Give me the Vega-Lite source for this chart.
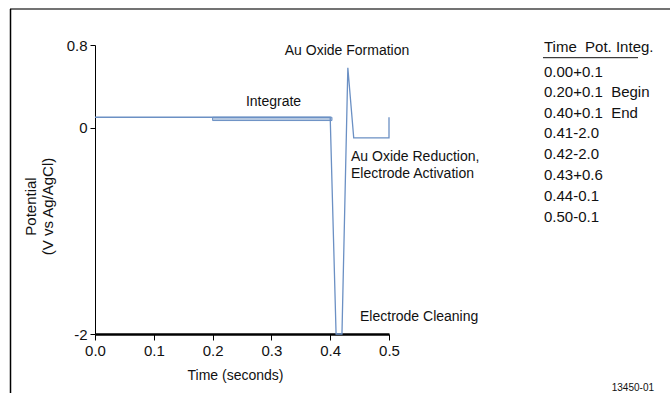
{
  "$schema": "https://vega.github.io/schema/vega-lite/v6.json",
  "autosize": {"type": "none"},
  "width": 294,
  "height": 289,
  "padding": {"left": 95, "top": 45, "right": 281, "bottom": 59},
  "background": "white",
  "config": {
    "view": {"stroke": null},
    "font": "Liberation Sans",
    "text": {"font": "Liberation Sans", "color": "#111"}
  },
  "encoding": {
    "x": {
      "field": "t", "type": "quantitative",
      "scale": {"domain": [0, 0.5], "nice": false, "zero": false},
      "axis": {
        "title": "Time (seconds)",
        "values": [0, 0.1, 0.2, 0.3, 0.4, 0.5],
        "format": ".1f",
        "labelFlush": false,
        "grid": false,
        "domainColor": "#000", "domainWidth": 2.5,
        "tickColor": "#000", "tickWidth": 1, "tickSize": 6,
        "labelFont": "Liberation Sans", "labelFontSize": 15, "labelColor": "#111", "labelPadding": 3,
        "titleFont": "Liberation Sans", "titleFontSize": 14, "titleFontWeight": "normal", "titleColor": "#111", "titlePadding": 10,
        "titleX": 140, "titleAlign": "center"
      }
    },
    "y": {
      "field": "v", "type": "quantitative",
      "scale": {"domain": [-2, 0.8], "nice": false, "zero": false},
      "axis": {
        "title": ["Potential", "(V vs Ag/AgCl)"],
        "values": [-2, 0, 0.8],
        "labelExpr": "datum.value > 0.5 ? '0.8' : (datum.value < -1 ? '-2' : '0')",
        "labelFlush": false,
        "grid": false,
        "domainColor": "#000", "domainWidth": 1,
        "tickColor": "#000", "tickWidth": 1, "tickSize": 5,
        "labelFont": "Liberation Sans", "labelFontSize": 15, "labelColor": "#111", "labelPadding": 3,
        "titleFont": "Liberation Sans", "titleFontSize": 15, "titleFontWeight": "normal", "titleColor": "#111",
        "titleAngle": 270, "titleBaseline": "bottom", "titleAlign": "center",
        "titleX": -57, "titleY": 161, "titleLineHeight": 17
      }
    }
  },
  "layer": [
    {
      "data": {"values": [{"t": -0.1446, "t2": 0.978, "v": 1.1488, "v2": 1.1488}]},
      "mark": {"type": "rule", "color": "#444", "strokeWidth": 1.6},
      "encoding": {"x2": {"field": "t2"}, "y2": {"field": "v2"}}
    },
    {
      "data": {"values": [{"t": -0.1437, "t2": -0.1437, "v": 1.1488, "v2": -2.7}]},
      "mark": {"type": "rule", "color": "#000", "strokeWidth": 1.5},
      "encoding": {"x2": {"field": "t2"}, "y2": {"field": "v2"}}
    },
    {
      "data": {"values": [{"t": 0.2, "t2": 0.403, "v": 0.1, "v2": 0.068}]},
      "mark": {"type": "rect", "fill": "#b4c7e0", "stroke": "#6b90c4", "strokeWidth": 1},
      "encoding": {"x2": {"field": "t2"}, "y2": {"field": "v2"}}
    },
    {
      "data": {"values": [
        {"o": 1, "t": 0.0, "v": 0.1},
        {"o": 2, "t": 0.2, "v": 0.1},
        {"o": 3, "t": 0.4, "v": 0.1},
        {"o": 4, "t": 0.41, "v": -2.0},
        {"o": 5, "t": 0.42, "v": -2.0},
        {"o": 6, "t": 0.43, "v": 0.58},
        {"o": 7, "t": 0.44, "v": -0.1},
        {"o": 8, "t": 0.5, "v": -0.1},
        {"o": 9, "t": 0.5, "v": 0.1}
      ]},
      "mark": {"type": "line", "color": "#6b90c4", "strokeWidth": 1.3},
      "encoding": {"order": {"field": "o", "type": "quantitative"}}
    },
    {
      "data": {"values": [
        {"t": 0.4286, "v": 0.742, "label": "Au Oxide Formation"},
        {"t": 0.3036, "v": 0.2506, "label": "Integrate"}
      ]},
      "mark": {"type": "text", "align": "center", "baseline": "middle", "fontSize": 14},
      "encoding": {"text": {"field": "label"}}
    },
    {
      "data": {"values": [
        {"t": 0.4354, "v": -0.282, "label": "Au Oxide Reduction,"},
        {"t": 0.4354, "v": -0.453, "label": "Electrode Activation"},
        {"t": 0.4507, "v": -1.8325, "label": "Electrode Cleaning"}
      ]},
      "mark": {"type": "text", "align": "left", "baseline": "middle", "fontSize": 14},
      "encoding": {"text": {"field": "label"}}
    },
    {
      "data": {"values": [
        {"t": 0.7636, "v": 0.7777, "label": "Time \u00a0Pot. Integ."},
        {"t": 0.7636, "v": 0.5413, "label": "0.00+0.1"},
        {"t": 0.7636, "v": 0.3417, "label": "0.20+0.1 \u00a0Begin"},
        {"t": 0.7636, "v": 0.1441, "label": "0.40+0.1 \u00a0End"},
        {"t": 0.7636, "v": -0.0555, "label": "0.41-2.0"},
        {"t": 0.7636, "v": -0.2561, "label": "0.42-2.0"},
        {"t": 0.7636, "v": -0.4596, "label": "0.43+0.6"},
        {"t": 0.7636, "v": -0.6601, "label": "0.44-0.1"},
        {"t": 0.7636, "v": -0.8636, "label": "0.50-0.1"}
      ]},
      "mark": {"type": "text", "align": "left", "baseline": "middle", "fontSize": 15},
      "encoding": {"text": {"field": "label"}}
    },
    {
      "data": {"values": [{"t": 0.7619, "t2": 0.9235, "v": 0.677, "v2": 0.677}]},
      "mark": {"type": "rule", "color": "#111", "strokeWidth": 1},
      "encoding": {"x2": {"field": "t2"}, "y2": {"field": "v2"}}
    },
    {
      "data": {"values": [{"t": 0.9507, "v": -2.523, "label": "13450-01"}]},
      "mark": {"type": "text", "align": "right", "baseline": "middle", "fontSize": 10},
      "encoding": {"text": {"field": "label"}}
    }
  ]
}
